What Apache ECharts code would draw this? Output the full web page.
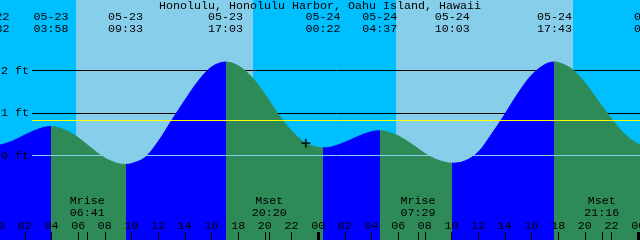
<!DOCTYPE html>
<html><head><meta charset="utf-8">
<script src="https://cdn.jsdelivr.net/npm/echarts@6/dist/echarts.min.js"></script>
<style>html,body{margin:0;padding:0;background:#00BFFF}#c{width:640px;height:240px}</style>
</head><body><div id="c"></div>
<script>
// ---- data (hours counted from 05-23 00:00 local time) ----
const chartTitle = "Honolulu, Honolulu Harbor, Oahu Island, Hawaii";
const tideHours = [-1, -0.467, 0, 1, 2, 3, 3.967, 5, 6, 7, 8, 9, 9.55, 10, 11, 12, 13, 14, 15, 16, 17.05, 18, 19, 20, 21, 22, 23, 24, 24.367, 25, 26, 27, 28, 28.617, 29, 30, 31, 32, 33, 34.05, 35, 36, 37, 38, 39, 40, 41, 41.717, 42, 43, 44, 45, 46, 47, 48, 49];
const tideFeet  = [0.24, 0.22, 0.235, 0.33, 0.48, 0.62, 0.68, 0.60, 0.42, 0.17, -0.06, -0.19, -0.21, -0.19, -0.05, 0.33, 0.82, 1.30, 1.75, 2.08, 2.20, 2.11, 1.85, 1.44, 0.97, 0.58, 0.30, 0.19, 0.18, 0.20, 0.31, 0.45, 0.56, 0.58, 0.57, 0.46, 0.27, 0.05, -0.11, -0.18, -0.13, 0.08, 0.50, 0.97, 1.47, 1.89, 2.14, 2.20, 2.19, 2.04, 1.71, 1.28, 0.86, 0.50, 0.27, 0.20];
const eventHours = [-0.467, 3.967, 9.55, 17.05, 24.367, 28.617, 34.05, 41.717, 49.0];
const eventKinds = ['L', 'H', 'L', 'H', 'L', 'H', 'L', 'H', 'L'];
const eventDates = ['05-22', '05-23', '05-23', '05-23', '05-24', '05-24', '05-24', '05-24', '05-25'];
const eventClock = ['23:32', '03:58', '09:33', '17:03', '00:22', '04:37', '10:03', '17:43', '01:00'];
const moonHours  = [6.683, 20.333, 31.483, 45.267];
const moonNames  = ['Mrise', 'Mset', 'Mrise', 'Mset'];
const moonClock  = ['06:41', '20:20', '07:29', '21:16'];
const sunriseHours = [5.84, 29.84];
const sunsetHours  = [19.11, 43.11];
const gridFeet   = [2, 1];
const gridLabels = ['2 ft', '1 ft'];
const zeroFeet = 0, zeroLabel = '0 ft';
const meanFeet = 0.82;
const nowHour = 23.07, nowFeet = 0.29;
const midnightHours = [0, 24, 48];

// ---- styling ----
const NIGHT = '#00BFFF', DAY = '#87CEEB', FLOOD = '#0000FF', EBB = '#2E8B57';
const FONT = "'Liberation Mono', 'DejaVu Sans Mono', monospace";
const FS = 11.67;
const X_MIN = -2, X_MAX = 50;
const PX_PER_HOUR = 640 / 48, X_SHIFT = -1.8;
const lineStartHour = (32 - X_SHIFT) / PX_PER_HOUR;

const pieces = [];
for (let i = 0; i <= eventHours.length; i++) {
  const rising = i < eventHours.length ? eventKinds[i] === 'H' : eventKinds[i - 1] === 'L';
  const p = { color: rising ? FLOOD : EBB };
  if (i > 0) p.gte = eventHours[i - 1];
  if (i < eventHours.length) p.lt = eventHours[i];
  pieces.push(p);
}
const pad = n => String(((n % 24) + 24) % 24).padStart(2, '0');
const findIdx = (arr, v) => arr.findIndex(a => Math.abs(a - v) < 1e-6);
const txt = { color: '#000', fontFamily: FONT, fontSize: FS };
const axisBase = { type: 'value', min: X_MIN, max: X_MAX, splitLine: { show: false }, axisLine: { show: false, onZero: false }, z: 10 };

const chart = echarts.init(document.getElementById('c'), null, { renderer: 'canvas' });
chart.setOption({
  animation: false,
  backgroundColor: NIGHT,
  title: { text: chartTitle, left: 'center', top: 0, padding: 0, textStyle: Object.assign({ fontWeight: 'normal' }, txt) },
  grid: { left: X_MIN * PX_PER_HOUR + X_SHIFT, right: 640 - (X_MAX * PX_PER_HOUR + X_SHIFT), top: 0, bottom: 0,
          containLabel: false, outerBoundsMode: 'none' },
  xAxis: [
    Object.assign({}, axisBase, { position: 'bottom', interval: 2,
      axisTick: { inside: true, length: 8, lineStyle: { color: '#000', width: 1 } },
      axisLabel: Object.assign({ inside: true, margin: 8, formatter: v => pad(v) }, txt) }),
    Object.assign({}, axisBase, { position: 'bottom',
      axisTick: { show: true, inside: true, length: 8, customValues: moonHours, lineStyle: { color: '#000', width: 1 } },
      axisLabel: Object.assign({ inside: true, margin: 21, lineHeight: 12, customValues: moonHours,
        formatter: v => { const i = findIdx(moonHours, v); return moonNames[i] + '\n' + moonClock[i]; } }, txt) }),
    Object.assign({}, axisBase, { position: 'bottom',
      axisTick: { show: true, inside: true, length: 8, customValues: midnightHours, lineStyle: { color: '#000', width: 3 } },
      axisLabel: { show: false } }),
    Object.assign({}, axisBase, { position: 'top', axisTick: { show: false },
      axisLabel: Object.assign({ inside: true, margin: 11, lineHeight: 12, customValues: eventHours,
        formatter: v => { const i = findIdx(eventHours, v); return eventDates[i] + '\n' + eventClock[i]; } }, txt) })
  ],
  yAxis: { type: 'value', min: -1.988, max: 3.659, show: false },
  visualMap: { type: 'piecewise', show: false, dimension: 0, seriesIndex: 1, pieces: pieces },
  series: [
    { type: 'line', data: [], z: 1, silent: true,
      markArea: { silent: true, z: 1, itemStyle: { color: DAY },
        data: sunriseHours.map((s, i) => [{ xAxis: s }, { xAxis: sunsetHours[i] }]) },
      markLine: { silent: true, z: 2, symbol: 'none', animation: false,
        lineStyle: { color: '#000', width: 1, type: 'solid' },
        label: Object.assign({ show: true, position: 'start', distance: 3 }, txt),
        data: gridFeet.map((f, i) => [{ coord: [lineStartHour, f], label: { formatter: gridLabels[i] } }, { coord: [X_MAX, f] }]) } },
    { type: 'line', z: 3, silent: true, showSymbol: false, symbol: 'none', smooth: 0.35,
      data: tideHours.map((h, i) => [h, tideFeet[i]]),
      lineStyle: { width: 1 }, areaStyle: { opacity: 1, origin: 'start' },
      markLine: { silent: true, z: 5, symbol: 'none', animation: false,
        label: Object.assign({ show: false, position: 'start', distance: 3 }, txt),
        data: [
          [{ coord: [lineStartHour, zeroFeet], lineStyle: { color: DAY, width: 1, type: 'solid' }, label: { show: true, formatter: zeroLabel } }, { coord: [X_MAX, zeroFeet] }],
          [{ coord: [lineStartHour, meanFeet], lineStyle: { color: '#FFFF00', width: 1, type: 'solid' } }, { coord: [X_MAX, meanFeet] }]
        ] } },
    { type: 'scatter', z: 6, silent: true, data: [[nowHour, nowFeet]],
      symbol: 'path://M0 4H10V6H0Z M4 0H6V10H4Z', symbolSize: 9, itemStyle: { color: '#000' } }
  ]
});
</script></body></html>
